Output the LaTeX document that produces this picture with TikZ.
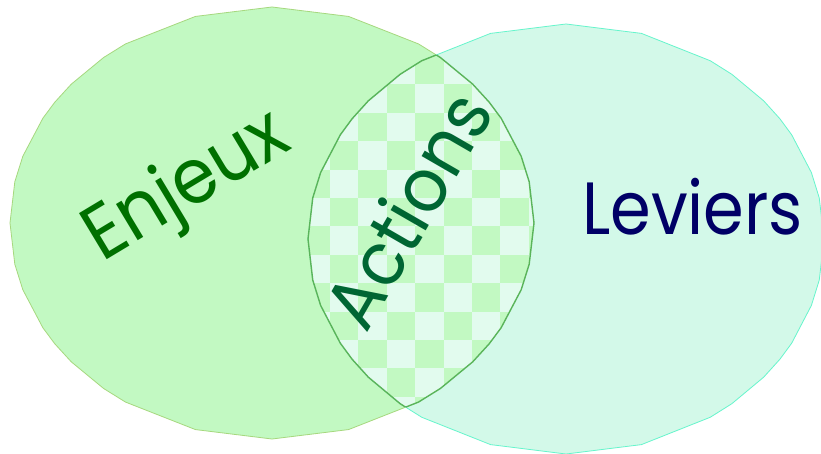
\documentclass[tikz,border=0pt]{standalone}
\usepackage{fontspec}
\setmainfont{Poppins}
\definecolor{leftfill}{HTML}{C2F9C2}
\definecolor{leftline}{HTML}{A6D87E}
\definecolor{rightfill}{HTML}{D3F9E9}
\definecolor{rightline}{HTML}{66F5CC}
\definecolor{lensline}{HTML}{5AB45A}
\definecolor{checkA}{HTML}{C2F9C2}
\definecolor{checkB}{HTML}{E2FBEE}
\definecolor{enjeuxcol}{HTML}{007000}
\definecolor{actionscol}{HTML}{006633}
\definecolor{levierscol}{HTML}{000066}
\tikzset{
  lbl/.style={inner sep=0pt},
}
% vertex angles of the polygonal outlines
\def\vangles{11,18,29,34,40,50,56,73,90,107,124,130,140,146,151,162,169,180,191,198,209,214,220,230,236,253,270,287,304,310,320,326,331,342,349}
\newcommand{\leftset}{({272+262},{223}) \foreach \a in \vangles {-- ({272+262*cos(\a)},{223-216*sin(\a)})} -- cycle}
\newcommand{\rightset}{({566+258},{239}) \foreach \a in \vangles {-- ({566+258*cos(\a)},{239-215*sin(\a)})} -- cycle}
\begin{document}
\begin{tikzpicture}[x=1pt, y=-1pt]
\useasboundingbox (0,0) rectangle (821,454);
\fill[white] (0,0) rectangle (821,454);

\filldraw[fill=leftfill, draw=leftline, line width=0.8pt] \leftset;
\filldraw[fill=rightfill, draw=rightline, line width=0.8pt] \rightset;

% checkered intersection
\begin{scope}
  \clip \leftset;
  \clip \rightset;
  \fill[checkB] (290,0) rectangle (550,454);
  \foreach \i in {-1,...,7} {
    \foreach \j in {-7,...,8} {
      \pgfmathtruncatemacro{\cellpar}{mod(\i+\j+40,2)}
      \ifnum\cellpar=0
        \fill[checkA] ({330+28.4*\i},{198+28.4*\j}) rectangle ++(28.4,28.4);
      \fi
    }
  }
\end{scope}
\begin{scope}
  \clip \leftset;
  \draw[lensline, line width=1.4pt] \rightset;
\end{scope}
\begin{scope}
  \clip \rightset;
  \draw[lensline, line width=1.4pt] \leftset;
\end{scope}

\node[lbl, text=enjeuxcol, rotate=31, anchor=base, font=\fontsize{77}{80}\selectfont] (enjeux) at (198,205) {\scalebox{0.92}[1]{Enjeux}};
\node[lbl, text=actionscol, rotate=60, anchor=base, font=\fontsize{74}{80}\selectfont] (actions) at (431,223) {\scalebox{0.94}[1]{Actions}};
\node[lbl, text=levierscol, anchor=base west, font=\fontsize{74}{80}\selectfont] (leviers) at (582,235) {\scalebox{0.885}[1]{Leviers}};
\end{tikzpicture}
\end{document}
